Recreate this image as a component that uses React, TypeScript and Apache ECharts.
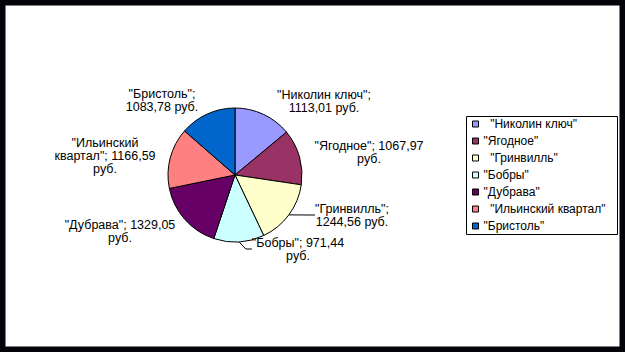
import React, { useEffect, useRef } from "react";
import * as echarts from "echarts";

const categories = [
  "Николин ключ",
  "Ягодное",
  "Гринвилль",
  "Бобры",
  "Дубрава",
  "Ильинский квартал",
  "Бристоль",
];
const values = [1113.01, 1067.97, 1244.56, 971.44, 1329.05, 1166.59, 1083.78];
const colors = ["#9999FF", "#993366", "#FFFFCC", "#CCFFFF", "#660066", "#FF8080", "#0066CC"];
const unit = "руб.";
// how each data label wraps: 1 = break after name, 2 = break before unit, 3 = break name and before unit
const labelWrap = [1, 2, 1, 2, 2, 3, 1];
const leaderShown = [false, false, true, true, false, false, false];
const legendIndent = [2, 0, 2, 0, 0, 2, 0];

// label centres (layout only)
const labelPos: [number, number][] = [
  [324, 101],
  [369, 152],
  [352, 215],
  [298, 249],
  [120, 231],
  [105, 156],
  [162, 100],
];

const fmt = (v: number) => v.toFixed(2).replace(".", ",");

export default function App() {
  const ref = useRef<HTMLDivElement>(null);
  useEffect(() => {
    if (!ref.current) return;
    const chart = echarts.init(ref.current, undefined, { renderer: "svg" });
    const font = "'Liberation Sans', Arial, sans-serif";
    chart.setOption({
      animation: false,
      backgroundColor: "#ffffff",
      color: colors,
      legend: {
        orient: "vertical",
        left: 472,
        top: 118,
        padding: 0,
        itemWidth: 6,
        itemHeight: 6,
        itemGap: 5,
        icon: "rect",
        selectedMode: false,
        itemStyle: { borderColor: "#000", borderWidth: 1 },
        textStyle: { fontFamily: font, fontSize: 12, lineHeight: 12, color: "#000" },
        formatter: (name: string) => {
          const i = categories.indexOf(name);
          return " ".repeat(legendIndent[i] || 0) + '"' + name + '"';
        },
        data: categories,
      },
      graphic: [
        {
          type: "rect",
          shape: { x: 466.5, y: 116.5, width: 151, height: 118 },
          style: { fill: "none", stroke: "#000", lineWidth: 1 },
          silent: true,
        },
        {
          type: "rect",
          shape: { x: 0, y: 0, width: 625, height: 352 },
          style: { fill: "none", stroke: "#04050a", lineWidth: 11 },
          silent: true,
          z: 100,
        },
      ],
      series: [
        {
          type: "pie",
          center: [235, 175],
          radius: 67,
          startAngle: 90,
          clockwise: true,
          emphasis: { disabled: true },
          itemStyle: { borderColor: "#000", borderWidth: 1 },
          label: {
            show: true,
            position: "outside",
            fontFamily: font,
            fontSize: 12.5,
            lineHeight: 13,
            color: "#000",
            align: "center",
            formatter: (p: any) => {
              const w = labelWrap[p.dataIndex];
              const v = fmt(p.value);
              if (w === 1) return '"' + p.name + '";\n' + v + " " + unit;
              if (w === 3) return '"' + p.name.replace(" ", "\n") + '"; ' + v + "\n" + unit;
              return '"' + p.name + '"; ' + v + "\n" + unit;
            },
          },
          labelLine: { show: false, length: 6, length2: 6, lineStyle: { color: "#000", width: 1 } },
          labelLayout: (params: any) => ({
            x: labelPos[params.dataIndex][0],
            y: labelPos[params.dataIndex][1],
            align: "center",
            verticalAlign: "middle",
          }),
          data: categories.map((name, i) => ({
            name,
            value: values[i],
            labelLine: { show: leaderShown[i] },
          })),
        },
      ],
    });
    return () => chart.dispose();
  }, []);
  return (
    <div
      ref={ref}
      style={{ position: "fixed", left: 0, top: 0, width: 625, height: 352 }}
    />
  );
}
